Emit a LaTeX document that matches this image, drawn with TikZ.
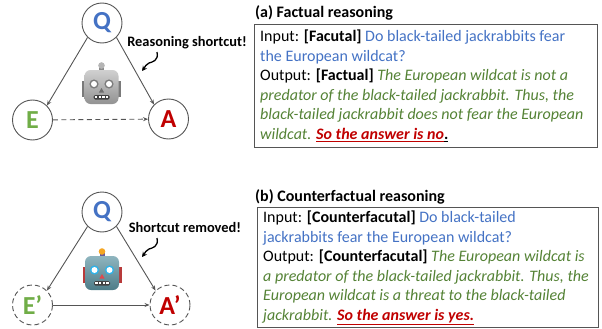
\documentclass[tikz,border=0pt]{standalone}
\usepackage{fontspec}
\setmainfont{Carlito}
\usetikzlibrary{arrows.meta}
\definecolor{qblue}{HTML}{4472C4}
\definecolor{egreen}{HTML}{70AD47}
\definecolor{ared}{HTML}{C00000}
\definecolor{tgreen}{HTML}{548235}
\definecolor{edgegray}{HTML}{555555}
% gray robot
\definecolor{gHead}{HTML}{D0D0D0}
\definecolor{gHeadDark}{HTML}{929292}
\definecolor{gEar}{HTML}{7A7A7A}
\definecolor{gEye}{HTML}{7C7C7C}
\definecolor{gNose}{HTML}{6E6E6E}
\definecolor{gKnob}{HTML}{B5B5B5}
\definecolor{gStalk}{HTML}{8A8A8A}
% teal robot
\definecolor{tHead}{HTML}{8FB5BF}
\definecolor{tHeadDark}{HTML}{4D7C88}
\definecolor{tEar}{HTML}{B83A3A}
\definecolor{tEye}{HTML}{2FB2E8}
\definecolor{tNose}{HTML}{E0474C}
\definecolor{tKnob}{HTML}{F5A623}
\definecolor{tStalk}{HTML}{6A5A9A}
\tikzset{
  ent/.style={circle,draw=edgegray,line width=0.9pt,minimum size=40pt,inner sep=0pt,font=\fontsize{26}{26}\selectfont\bfseries},
  entd/.style={ent,dashed,dash pattern=on 5pt off 3pt},
  rel/.style={draw=edgegray,line width=0.9pt,-{Stealth[length=5pt,width=4pt]}},
  squig/.style={draw=black,line width=1.3pt,-{Stealth[length=5pt,width=5pt]}},
  note/.style={font=\fontsize{14.4}{14.4}\selectfont\bfseries,inner sep=0pt},
  ttl/.style={font=\fontsize{16}{16}\selectfont\bfseries,anchor=base west,inner sep=0pt},
  ln/.style={font=\fontsize{16}{16}\selectfont,anchor=base west,inner sep=0pt},
  panel/.style={draw=edgegray,line width=0.9pt}
}
\newcommand{\qs}[1]{\textcolor{qblue}{#1}}
\newcommand{\gs}[1]{\textcolor{tgreen}{\itshape #1}}
\newcommand{\robot}[3]{%
 % #1 x, #2 y, #3 colour prefix (g or t)
 \begin{scope}[shift={(#1,#2)}]
  \fill[#3Ear] (-19.5,-6) rectangle (-16,10);
  \fill[#3Ear] (16,-6) rectangle (19.5,10);
  \fill[#3Stalk] (-2.5,-20) rectangle (2.5,-16);
  \fill[#3Knob] (0,-21.5) circle (3.3);
  \shade[top color=#3Head,bottom color=#3HeadDark,rounded corners=6pt] (-17,-17) rectangle (17,17);
  \fill[#3Eye] (-7.5,-3) circle (4.6);
  \fill[white] (-7.5,-3) circle (3);
  \fill[#3Eye] (7.5,-3) circle (4.6);
  \fill[white] (7.5,-3) circle (3);
  \fill[#3Nose] (0,1) -- (-2.6,5.5) -- (2.6,5.5) -- cycle;
  \fill[black!75,rounded corners=1.5pt] (-8,8) rectangle (8,12.5);
  \foreach \t in {-5.4,-1.8,1.8,5.4}{\fill[white] (\t-1.2,9.1) rectangle (\t+1.2,11.4);}
 \end{scope}}
\begin{document}
\begin{tikzpicture}[x=1pt,y=-1pt]
\useasboundingbox (0,0) rectangle (602,329);
% ---------- (a) graph
\robot{101.5}{87}{g}
\node[ent,text=qblue] (q1) at (102,23) {Q};
\node[ent,text=egreen] (e1) at (32.5,120) {E};
\node[ent,text=ared] (a1) at (168.5,119) {A};
\draw[rel] (q1.225) -- (e1.45);
\draw[rel] (q1.315) -- (a1.135);
\draw[rel,dashed,dash pattern=on 5pt off 3.5pt] (e1) -- (a1);
\node[note] (n1) at (187,43) {Reasoning shortcut!};
\coordinate (s1) at (157,52);
\coordinate (t1) at (142,71);
\draw[squig] (s1) .. controls (159,61) and (152,62) .. (149,63) .. controls (146,64) and (145,67) .. (t1);
% ---------- (b) graph
\robot{102}{273}{t}
\node[ent,text=qblue] (q2) at (102,212) {Q};
\node[entd,text=egreen] (e2) at (32.5,305) {E’};
\node[entd,text=ared] (a2) at (170,305) {A’};
\draw[rel] (q2.225) -- (e2.45);
\draw[rel] (q2.315) -- (a2.135);
\draw[rel] (e2) -- (a2);
\node[note] (n2) at (185,227) {Shortcut removed!};
\coordinate (s2) at (157,238);
\coordinate (t2) at (142,257);
\draw[squig] (s2) .. controls (159,247) and (152,248) .. (149,249) .. controls (146,250) and (145,253) .. (t2);
% ---------- (a) panel
\node[ttl] (ta) at (255,18) {(a) Factual reasoning};
\draw[panel] (254,24) rectangle (597,147);
\node[ln] (a1l) at (260,41.5) {Input: \textbf{[Facutal]} \qs{Do black-tailed jackrabbits fear}};
\node[ln] (a2l) at (260,61.1) {\qs{the European wildcat?}};
\node[ln] (a3l) at (260,80.7) {Output: \textbf{[Factual]} \gs{The European wildcat is not a}};
\node[ln] (a4l) at (260,100.3) {\gs{predator of the black-tailed jackrabbit. Thus, the}};
\node[ln] (a5l) at (260,119.9) {\gs{black-tailed jackrabbit does not fear the European}};
\node[ln] (a6l) at (260,139.5) {\gs{wildcat.} {\color{ared}\underline{\bfseries\itshape So the answer is no}}\underline{\bfseries .}};
% ---------- (b) panel
\node[ttl] (tb) at (255,201) {(b) Counterfactual reasoning};
\draw[panel] (257,207) rectangle (598,327);
\node[ln] (b1l) at (263,222.5) {Input: \textbf{[Counterfacutal]} \qs{Do black-tailed}};
\node[ln] (b2l) at (263,242.1) {\qs{jackrabbits fear the European wildcat?}};
\node[ln] (b3l) at (263,261.7) {Output: \textbf{[Counterfacutal]} \gs{The European wildcat is}};
\node[ln] (b4l) at (263,281.3) {\gs{a predator of the black-tailed jackrabbit. Thus, the}};
\node[ln] (b5l) at (263,300.9) {\gs{European wildcat is a threat to the black-tailed}};
\node[ln] (b6l) at (263,320.5) {\gs{jackrabbit.} {\color{ared}\underline{\bfseries\itshape So the answer is yes.}}};
\end{tikzpicture}
\end{document}
